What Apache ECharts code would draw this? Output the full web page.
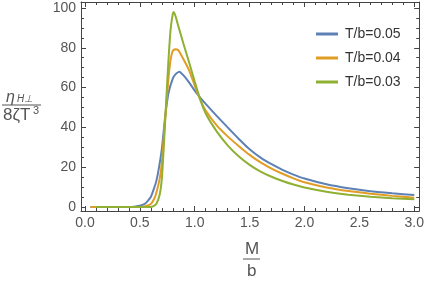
<!DOCTYPE html>
<html>
<head>
    <meta charset="UTF-8">
    <title>eta plot</title>
    <script src="https://cdn.jsdelivr.net/npm/echarts@6/dist/echarts.min.js"></script>
    <style>
        html, body { margin: 0; padding: 0; background: #fff; }
        #chart { width: 427px; height: 281px; }
    </style>
</head>
<body>
    <div id="chart"></div>
    <script>
        // T/b = 0.05
        var xBlue = [0.05, 0.2, 0.4, 0.45, 0.5, 0.55, 0.6, 0.65, 0.7, 0.73, 0.76, 0.8, 0.83, 0.86, 0.9, 0.95, 1.0, 1.05, 1.1, 1.2, 1.3, 1.4, 1.5, 1.6, 1.7, 1.8, 1.9, 2.0, 2.2, 2.4, 2.6, 2.8, 3.0];
        var yBlue = [0, 0, 0, 0.2, 0.6, 1.8, 5, 13, 29, 45, 57, 64.5, 67, 68, 66, 62.5, 58.5, 55, 51.8, 45.8, 40, 34.3, 29, 24.8, 21.5, 18.7, 16.3, 14.3, 11.4, 9.4, 7.9, 6.9, 6.0];
        // T/b = 0.04
        var xOrange = [0.05, 0.3, 0.5, 0.55, 0.6, 0.63, 0.65, 0.68, 0.7, 0.73, 0.76, 0.78, 0.8, 0.82, 0.85, 0.9, 0.95, 1.0, 1.05, 1.1, 1.2, 1.3, 1.4, 1.5, 1.6, 1.7, 1.8, 1.9, 2.0, 2.2, 2.4, 2.6, 2.8, 3.0];
        var yOrange = [0, 0, 0, 0.4, 1.5, 4, 7, 14, 22, 44, 64, 74, 78.5, 79.3, 78.8, 74, 68.5, 61, 54, 48.5, 41, 35.5, 30.7, 26.2, 22.4, 19.3, 16.7, 14.4, 12.4, 9.8, 8.0, 6.7, 5.6, 4.7];
        // T/b = 0.03
        var xGreen = [0.1, 0.4, 0.6, 0.62, 0.65, 0.68, 0.7, 0.72, 0.74, 0.76, 0.78, 0.8, 0.81, 0.83, 0.85, 0.9, 0.95, 1.0, 1.05, 1.1, 1.2, 1.3, 1.4, 1.5, 1.6, 1.7, 1.8, 1.9, 2.0, 2.2, 2.4, 2.6, 2.8, 3.0];
        var yGreen = [0, 0, 0, 0.3, 1.5, 6, 14, 32, 53, 73, 89, 97, 98, 95, 91, 81.5, 72.5, 63, 54, 47, 38, 31, 25.5, 21.2, 17.8, 15.2, 13.1, 11.3, 9.8, 7.7, 6.2, 5.1, 4.4, 3.9];

        var seriesNames = ['T/b=0.05', 'T/b=0.04', 'T/b=0.03'];
        var colors = ['#5e81b5', '#e19c24', '#8fb032'];

        var xMajor = [0, 0.5, 1.0, 1.5, 2.0, 2.5, 3.0];
        var yMajor = [0, 20, 40, 60, 80, 100];
        var xMinor = [];
        for (var i = 0; i <= 30; i++) xMinor.push(i / 10);
        var yMinor = [];
        for (var j = 0; j <= 20; j++) yMinor.push(j * 5);

        function pairs(xs, ys) {
            return xs.map(function (x, k) { return [x, ys[k]]; });
        }

        var font = "'Liberation Sans', Arial, sans-serif";
        var frameColor = '#444';
        var labelColor = '#555';

        function frameAxis(pos, min, max, ticks, len, showLine, labels, fmt) {
            return {
                type: 'value',
                position: pos,
                min: min,
                max: max,
                splitLine: { show: false },
                axisLine: { show: showLine, onZero: false, lineStyle: { color: frameColor, width: 1 } },
                axisTick: { show: true, inside: true, length: len, customValues: ticks, lineStyle: { color: frameColor } },
                axisLabel: labels ? {
                    show: true, customValues: labels, color: labelColor, fontSize: 14, fontFamily: font,
                    margin: 5, formatter: fmt
                } : { show: false }
            };
        }

        var fx = function (v) { return v.toFixed(1); };
        var fy = function (v) { return String(Math.round(v)); };

        var chart = echarts.init(document.getElementById('chart'));

        var option = {
            backgroundColor: '#fff',
            animation: false,
            grid: { left: 81, right: 7, top: 2, bottom: 70, containLabel: false },
            xAxis: [
                frameAxis('bottom', -0.036, 3.045, xMajor, 5, true, xMajor, fx),
                frameAxis('bottom', -0.036, 3.045, xMinor, 3, false, null),
                frameAxis('top', -0.036, 3.045, xMajor, 5, true, null),
                frameAxis('top', -0.036, 3.045, xMinor, 3, false, null)
            ],
            yAxis: [
                frameAxis('left', -2, 103, yMajor, 5, true, yMajor, fy),
                frameAxis('left', -2, 103, yMinor, 3, false, null),
                frameAxis('right', -2, 103, yMajor, 5, true, null),
                frameAxis('right', -2, 103, yMinor, 3, false, null)
            ],
            legend: {
                orient: 'vertical',
                left: 311,
                top: 21,
                icon: 'rect',
                itemWidth: 22,
                itemHeight: 3,
                itemGap: 8,
                textStyle: { color: '#333', fontSize: 14, fontFamily: font, lineHeight: 16, padding: [0, 0, 0, 2] },
                data: seriesNames
            },
            series: [
                { name: seriesNames[0], data: pairs(xBlue, yBlue) },
                { name: seriesNames[1], data: pairs(xOrange, yOrange) },
                { name: seriesNames[2], data: pairs(xGreen, yGreen) }
            ].map(function (s, k) {
                return {
                    name: s.name,
                    type: 'line',
                    data: s.data,
                    xAxisIndex: 0,
                    yAxisIndex: 0,
                    showSymbol: false,
                    smooth: 0.15,
                    color: colors[k],
                    lineStyle: { width: 2, color: colors[k] }
                };
            }),
            graphic: [
                // y axis label: eta_{H perp} / 8 zeta T^3
                { type: 'text', left: 6, top: 90, style: { text: 'η', font: 'italic 16px ' + font, fill: labelColor } },
                { type: 'text', left: 17, top: 94, style: { text: 'H⊥', font: 'italic 10px ' + font, fill: labelColor } },
                { type: 'line', shape: { x1: 2, y1: 105, x2: 41, y2: 105 }, style: { stroke: labelColor, lineWidth: 1 } },
                { type: 'text', left: 3, top: 107, style: { text: '8ζT', font: '17px ' + font, fill: labelColor } },
                { type: 'text', left: 33, top: 105, style: { text: '3', font: '11px ' + font, fill: labelColor } },
                // x axis label: M / b
                { type: 'text', left: 245, top: 241, style: { text: 'M', font: '17px ' + font, fill: labelColor } },
                { type: 'line', shape: { x1: 243, y1: 259, x2: 260, y2: 259 }, style: { stroke: labelColor, lineWidth: 1 } },
                { type: 'text', left: 247, top: 263, style: { text: 'b', font: '17px ' + font, fill: labelColor } }
            ]
        };

        chart.setOption(option);
    </script>
</body>
</html>
